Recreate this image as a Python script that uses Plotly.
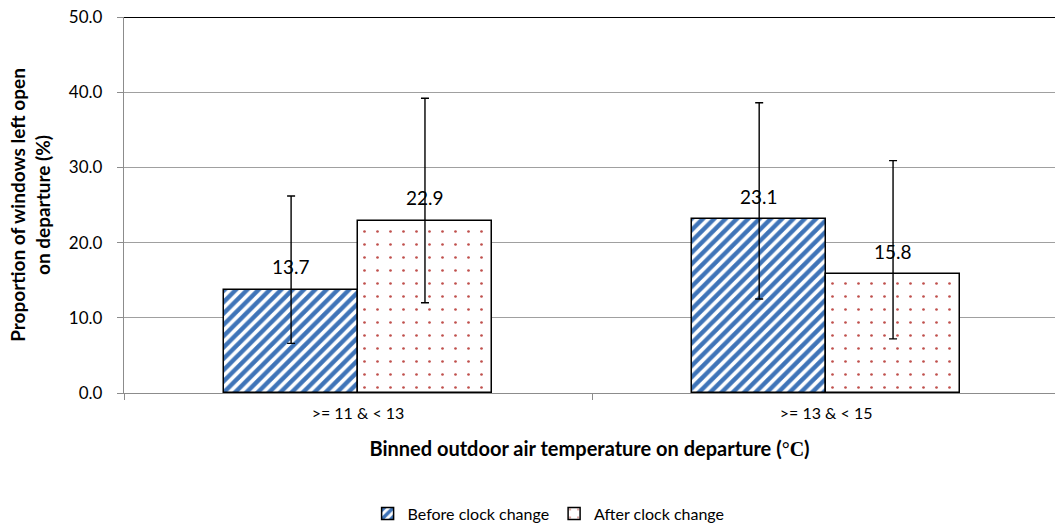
import plotly.graph_objects as go

categories = [">= 11 & < 13", ">= 13 & < 15"]
before_vals = [13.7, 23.1]
after_vals = [22.9, 15.8]
before_err_plus = [12.5, 15.5]
before_err_minus = [7.1, 10.6]
after_err_plus = [16.3, 15.1]
after_err_minus = [10.9, 8.6]
series_names = ["Before clock change", "After clock change"]
y_ticks = [0, 10, 20, 30, 40, 50]

FONT = "Lato, 'Open Sans', sans-serif"
BW = 0.286

fig = go.Figure()
fig.add_trace(go.Bar(
    x=categories, y=before_vals, name=series_names[0],
    width=BW, offset=-BW,
    marker=dict(color="white", line=dict(color="black", width=1.5),
                pattern=dict(shape="/", fgcolor="#3F74B8", bgcolor="white",
                             fgopacity=1, size=8, solidity=0.55)),
    error_y=dict(type="data", symmetric=False, array=before_err_plus,
                 arrayminus=before_err_minus, color="black", thickness=1.4, width=4),
))
fig.add_trace(go.Bar(
    x=categories, y=after_vals, name=series_names[1],
    width=BW, offset=0,
    marker=dict(color="white", line=dict(color="black", width=1.5),
                pattern=dict(shape=".", fgcolor="#C0504D", bgcolor="white",
                             fgopacity=1, size=13, solidity=0.035)),
    error_y=dict(type="data", symmetric=False, array=after_err_plus,
                 arrayminus=after_err_minus, color="black", thickness=1.4, width=4),
))

annotations = []
for i, v in enumerate(before_vals):
    annotations.append(dict(x=i - BW / 2, y=v, xref="x", yref="y", text=f"{v:.1f}",
                            showarrow=False, yshift=23, font=dict(size=19, color="black", family=FONT)))
for i, v in enumerate(after_vals):
    annotations.append(dict(x=i + BW / 2, y=v, xref="x", yref="y", text=f"{v:.1f}",
                            showarrow=False, yshift=23, font=dict(size=19, color="black", family=FONT)))

fig.update_layout(
    width=1055, height=524,
    margin=dict(l=124, r=0, t=17, b=131),
    paper_bgcolor="white", plot_bgcolor="white",
    font=dict(family=FONT, color="black", size=16),
    bargap=0, bargroupgap=0,
    showlegend=True,
    legend=dict(orientation="h", xref="container", yref="container", x=0.52, y=0.02,
                xanchor="center", yanchor="middle", font=dict(size=16, family=FONT),
                itemwidth=30, tracegroupgap=0),
    annotations=annotations,
    shapes=[dict(type="line", xref="x domain", yref="y", x0=0, x1=1, y0=50, y1=50,
                 line=dict(color="black", width=2))],
)
fig.update_xaxes(
    type="category", range=[-0.5, 1.489],
    showline=True, linecolor="#8c8c8c", linewidth=1.3,
    ticks="outside", tickson="boundaries", ticklen=6, tickcolor="#8c8c8c",
    tickfont=dict(size=16, family=FONT),
    ticklabelstandoff=6,
    title=dict(text="<b>Binned outdoor air temperature on departure (</b><span style='font-family:Liberation Serif'><b>°C</b></span><b>)</b>",
               font=dict(size=20, family=FONT), standoff=20),
    showgrid=False,
)
fig.update_yaxes(
    range=[0, 50], tickvals=y_ticks, ticktext=[f"{t:.1f}" for t in y_ticks],
    showline=True, linecolor="#8c8c8c", linewidth=1.3,
    ticks="outside", ticklen=6, tickcolor="#8c8c8c",
    showgrid=True, gridcolor="#a0a0a0", gridwidth=1,
    tickfont=dict(size=17, family=FONT),
    ticklabelstandoff=11,
    title=dict(text="<b>Proportion of windows left open<br>on departure (%)</b>",
               font=dict(size=19, family=FONT), standoff=13),
    zeroline=False,
)

fig.write_html("out.html")
